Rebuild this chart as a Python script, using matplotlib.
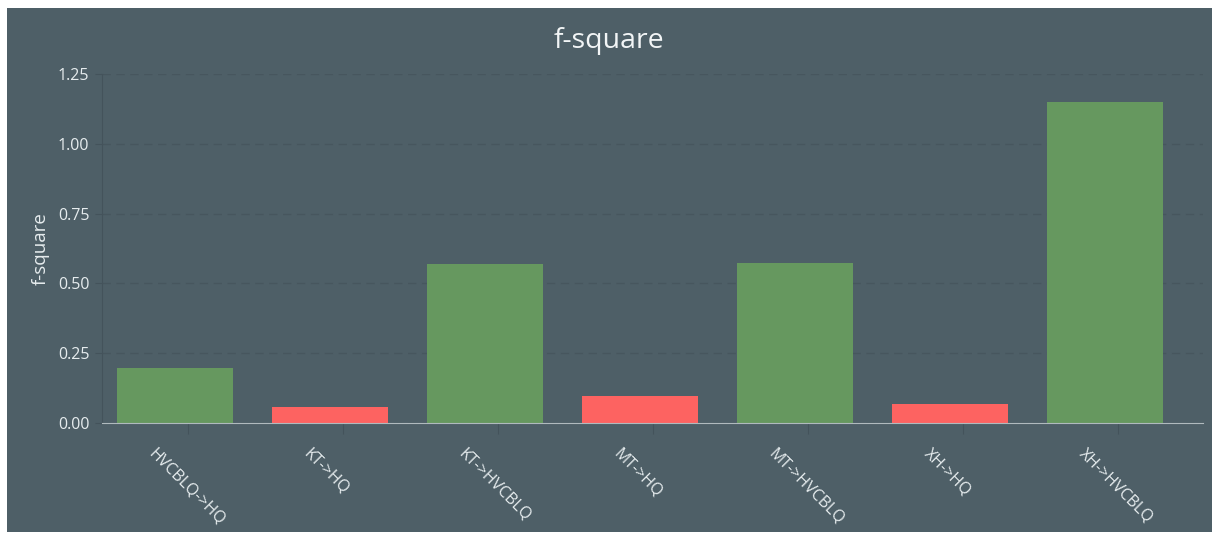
import numpy as np
import matplotlib.pyplot as plt
import matplotlib.transforms as mtransforms
from matplotlib.patches import Rectangle

categories = ['HVCBLQ->HQ', 'KT->HQ', 'KT->HVCBLQ', 'MT->HQ', 'MT->HVCBLQ', 'XH->HQ', 'XH->HVCBLQ']
fsquare = [0.197, 0.057, 0.569, 0.097, 0.573, 0.068, 1.150]
is_big = [True, False, True, False, True, False, True]

bg = '#4e5f67'
green = '#66985f'
red = '#fd6361'
txt = '#e6ecee'

plt.rcParams['font.family'] = ['Open Sans', 'DejaVu Sans']

fig = plt.figure(figsize=(12.18, 5.35), dpi=100, facecolor='white')
# dark panel with thin white border around it
fig.patches.append(Rectangle((7/1218, 3/535), (1212-7)/1218, (527-3)/535,
                             transform=fig.transFigure, facecolor=bg, edgecolor='none', zorder=-5))

ax = fig.add_axes([102/1218, 112/535, (1203-102)/1218, (423-74)/535])
ax.set_facecolor('none')
ax.set_zorder(2)

x = np.arange(len(categories))
colors = [green if b else red for b in is_big]
# bars sit a little left of the category ticks
ax.bar(x - 0.085, fsquare, width=0.75, color=colors, zorder=3)

ax.set_xlim(-0.555, 6.548)
ax.set_ylim(0, 1.25)
ax.set_yticks([0, 0.25, 0.5, 0.75, 1.0, 1.25])
ax.set_yticklabels(['0.00', '0.25', '0.50', '0.75', '1.00', '1.25'])
ax.yaxis.grid(True, linestyle=(0, (6, 4)), color='#47565e', linewidth=1, zorder=0)

for s in ['top', 'right']:
    ax.spines[s].set_visible(False)
ax.spines['bottom'].set_color('#b0babe')
ax.spines['bottom'].set_zorder(4)
ax.spines['left'].set_color('#44535b')

ax.tick_params(axis='y', colors='#44535b', labelcolor=txt, labelsize=11.5, length=5, pad=4)
ax.tick_params(axis='x', colors='#44535b', labelcolor=txt, labelsize=11.5, length=8)

ax.set_xticks(x)
ax.set_xticklabels(categories, rotation=-45, ha='left', va='center', rotation_mode='anchor')
offset = mtransforms.ScaledTranslation(-37/100, -12/100, fig.dpi_scale_trans)
for lab in ax.get_xticklabels():
    lab.set_transform(lab.get_transform() + offset)

ax.set_ylabel('f-square', color=txt, fontsize=13.5, labelpad=6)
fig.text(0.5, 1 - 41/535, 'f-square', color='#f2f5f6', fontsize=20.5, ha='center', va='center')

fig.savefig('out.png', dpi=100, facecolor='white')
